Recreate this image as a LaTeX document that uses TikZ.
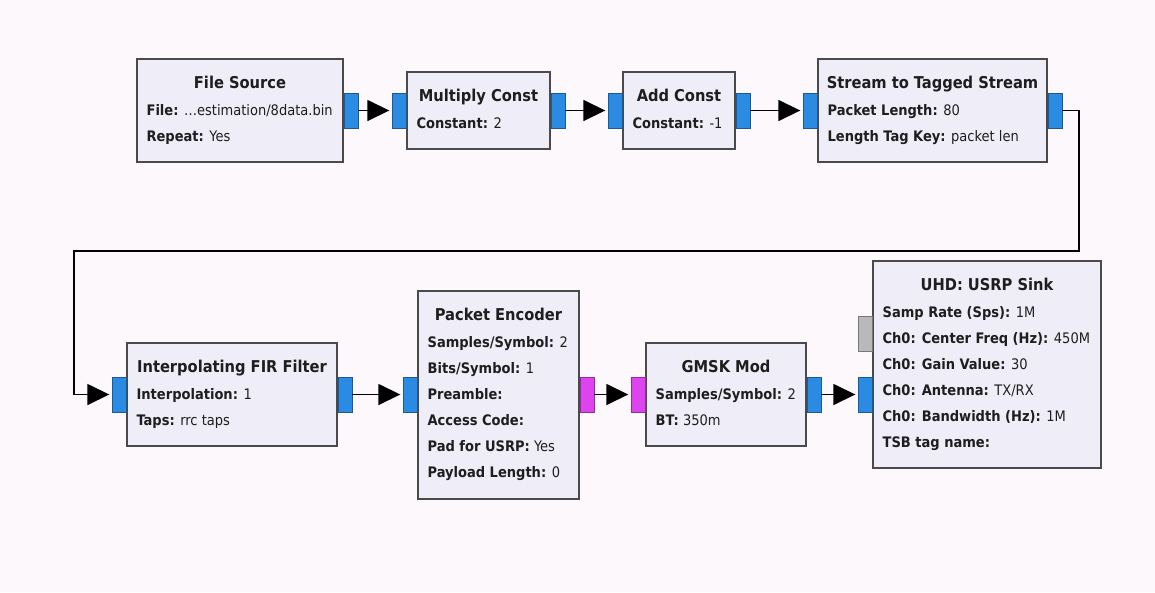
\documentclass[tikz,border=0pt]{standalone}
\usepackage{fontspec}
\setmainfont{DejaVu Sans Condensed}
\usetikzlibrary{arrows.meta,calc}

\definecolor{bgc}{HTML}{FCF8FC}
\definecolor{blkfill}{HTML}{EFEEF8}
\definecolor{blkline}{HTML}{4A4A4A}
\definecolor{portblue}{HTML}{2B8BE2}
\definecolor{portmag}{HTML}{DD44EE}
\definecolor{portgray}{HTML}{B9B9B9}
\definecolor{txt}{HTML}{1E1E1E}

\tikzset{
  blk/.style={rectangle, draw=blkline, fill=blkfill, line width=1.2pt, inner sep=0pt},
  ttl/.style={anchor=base, inner sep=0pt, text=txt, font=\bfseries\fontsize{16.3}{19}\selectfont},
  val/.style={anchor=base west, inner sep=0pt, text=txt, font=\fontsize{14.5}{17}\selectfont},
  grport/.style={rectangle, minimum width=14pt, minimum height=35pt, inner sep=0pt,
                 draw=#1!65!black, fill=#1, line width=0.6pt},
  conn/.style={draw=black, line width=1.6pt, -{Triangle[length=22pt,width=21pt]}, shorten >=2.5pt},
}

% block: name, x1, y1, x2, y2, title, body lines
\newcommand\grcblock[7]{%
  \node[blk, minimum width={(#4-#2)*1pt}, minimum height={(#5-#3)*1pt}]
       (#1) at ({(#2+#4)/2},{(#3+#5)/2}) {};
  \node[ttl] (#1-t) at ($(#1.north)+(0,30)$) {#6};
  \foreach \bodyline [count=\k] in {#7} {
    \node[val] (#1-l\k) at ($(#1.north west)+(10,{31.3+26*\k})$) {\bodyline};
  }%
}

\begin{document}
\begin{tikzpicture}[x=1pt,y=-1pt]
  \fill[bgc] (0,0) rectangle (1155,592);
  \useasboundingbox (0,0) rectangle (1155,592);

  % top row
  \grcblock{fs}{137}{59}{343}{162}{File Source}
    {\textbf{File:} …estimation/8data.bin, \textbf{Repeat:} Yes}
  \grcblock{mc}{407}{72}{550}{149}{Multiply Const}
    {\textbf{Constant:} 2}
  \grcblock{ac}{623}{72}{735}{149}{Add Const}
    {\textbf{Constant:} -1}
  \grcblock{st}{818}{59}{1047}{162}{Stream to Tagged Stream}
    {\textbf{Packet Length:} 80, \textbf{Length Tag Key:} packet len}

  % bottom row
  \grcblock{fir}{127}{343}{337}{446}{Interpolating FIR Filter}
    {\textbf{Interpolation:} 1, \textbf{Taps:} rrc taps}
  \grcblock{pe}{418}{291}{579}{499}{Packet Encoder}
    {\textbf{Samples/Symbol:} 2, \textbf{Bits/Symbol:} 1, \textbf{Preamble:},
     \textbf{Access Code:}, \textbf{Pad for USRP:} Yes, \textbf{Payload Length:} 0}
  \grcblock{gm}{646}{343}{806}{446}{GMSK Mod}
    {\textbf{Samples/Symbol:} 2, \textbf{BT:} 350m}
  \grcblock{us}{873}{261}{1101}{468}{UHD: USRP Sink}
    {\textbf{Samp Rate (Sps):} 1M, \textbf{Ch0: Center Freq (Hz):} 450M,
     \textbf{Ch0: Gain Value:} 30, \textbf{Ch0: Antenna:} TX/RX,
     \textbf{Ch0: Bandwidth (Hz):} 1M, \textbf{TSB tag name:}}

  % ports
  \node[grport=portblue, anchor=west] (fs-out) at (fs.east) {};
  \node[grport=portblue, anchor=east] (mc-in)  at (mc.west) {};
  \node[grport=portblue, anchor=west] (mc-out) at (mc.east) {};
  \node[grport=portblue, anchor=east] (ac-in)  at (ac.west) {};
  \node[grport=portblue, anchor=west] (ac-out) at (ac.east) {};
  \node[grport=portblue, anchor=east] (st-in)  at (st.west) {};
  \node[grport=portblue, anchor=west] (st-out) at (st.east) {};

  \node[grport=portblue, anchor=east] (fir-in)  at (fir.west) {};
  \node[grport=portblue, anchor=west] (fir-out) at (fir.east) {};
  \node[grport=portblue, anchor=east] (pe-in)   at (pe.west |- fir-out) {};
  \node[grport=portmag,  anchor=west] (pe-out)  at (pe.east |- fir-out) {};
  \node[grport=portmag,  anchor=east] (gm-in)   at (gm.west |- fir-out) {};
  \node[grport=portblue, anchor=west] (gm-out)  at (gm.east |- fir-out) {};
  \node[grport=portblue, anchor=east] (us-in)   at (us.west |- fir-out) {};
  \node[grport=portgray, anchor=east] (us-msg)  at ($(us.west)+(0,-30.5)$) {};

  % connections
  \draw[conn] (fs-out.east) -- (mc-in.west);
  \draw[conn] (mc-out.east) -- (ac-in.west);
  \draw[conn] (ac-out.east) -- (st-in.west);
  \coordinate (bend) at (74,251);
  \draw[conn] (st-out.east) -- ++(17,0) |- (bend) |- (fir-in.west);
  \draw[conn] (fir-out.east) -- (pe-in.west);
  \draw[conn] (pe-out.east) -- (gm-in.west);
  \draw[conn] (gm-out.east) -- (us-in.west);
\end{tikzpicture}
\end{document}
